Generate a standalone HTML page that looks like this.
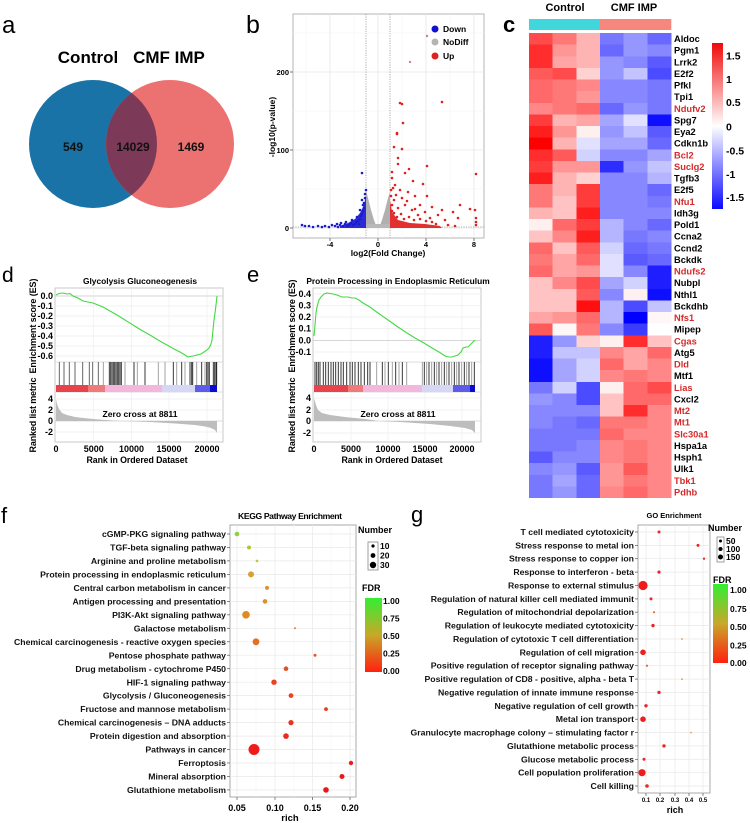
<!DOCTYPE html>
<html><head><meta charset="utf-8"><style>
html,body{margin:0;padding:0;background:#fff;}
svg{display:block;}
text{font-family:"Liberation Sans",Arial,sans-serif;}
.b{font-weight:bold;}
</style></head><body>
<svg width="750" height="823" viewBox="0 0 750 823" xmlns="http://www.w3.org/2000/svg">
<defs>
 <clipPath id="vc"><circle cx="93" cy="144" r="64"/></clipPath>
 <linearGradient id="hmg" x1="0" y1="0" x2="0" y2="1"><stop offset="0" stop-color="#f00a0a"/><stop offset="0.5" stop-color="#ffffff"/><stop offset="1" stop-color="#0a0aff"/></linearGradient>
 <linearGradient id="fdr" x1="0" y1="0" x2="0" y2="1"><stop offset="0" stop-color="#33ee33"/><stop offset="0.5" stop-color="#c8a828"/><stop offset="1" stop-color="#ff2010"/></linearGradient>
</defs>
<rect width="750" height="823" fill="#fff"/>

<!-- ===== Panel a: Venn ===== -->
<text x="2" y="33" font-size="24">a</text>
<text x="88" y="63" font-size="17" class="b" text-anchor="middle">Control</text>
<text x="169" y="63" font-size="17" class="b" text-anchor="middle">CMF IMP</text>
<circle cx="93" cy="144" r="64" fill="#1a73a7"/>
<circle cx="170" cy="144" r="64" fill="#ec7272"/>
<circle cx="170" cy="144" r="64" fill="#7d3a58" clip-path="url(#vc)"/>
<text x="73" y="151" font-size="12" class="b" text-anchor="middle" fill="#111">549</text>
<text x="133" y="151" font-size="12" class="b" text-anchor="middle" fill="#111">14029</text>
<text x="191" y="151" font-size="12" class="b" text-anchor="middle" fill="#111">1469</text>

<!-- ===== Panel b: Volcano ===== -->
<text x="246" y="33" font-size="25">b</text>
<rect x="293" y="14" width="191" height="224" fill="#fff" stroke="#b5b5b5" stroke-width="1"/>
<g stroke="#f3f3f3" stroke-width="0.6">
<line x1="306" y1="14" x2="306" y2="238"/><line x1="354" y1="14" x2="354" y2="238"/><line x1="402" y1="14" x2="402" y2="238"/><line x1="450" y1="14" x2="450" y2="238"/>
<line x1="293" y1="189" x2="484" y2="189"/><line x1="293" y1="111" x2="484" y2="111"/><line x1="293" y1="33" x2="484" y2="33"/>
</g>
<g stroke="#e6e6e6" stroke-width="0.8">
<line x1="330" y1="14" x2="330" y2="238"/><line x1="378" y1="14" x2="378" y2="238"/><line x1="426" y1="14" x2="426" y2="238"/><line x1="474" y1="14" x2="474" y2="238"/>
<line x1="293" y1="228" x2="484" y2="228"/><line x1="293" y1="150" x2="484" y2="150"/><line x1="293" y1="72" x2="484" y2="72"/>
</g>
<g stroke="#999" stroke-width="0.8" stroke-dasharray="1.2,1.2">
<line x1="366" y1="14" x2="366" y2="238"/><line x1="390" y1="14" x2="390" y2="238"/>
<line x1="293" y1="227" x2="484" y2="227"/>
</g>
<g stroke="#555" stroke-width="0.8">
<line x1="290" y1="228" x2="293" y2="228"/><line x1="290" y1="150" x2="293" y2="150"/><line x1="290" y1="72" x2="293" y2="72"/>
<line x1="330" y1="238" x2="330" y2="241"/><line x1="378" y1="238" x2="378" y2="241"/><line x1="426" y1="238" x2="426" y2="241"/><line x1="474" y1="238" x2="474" y2="241"/>
</g>
<g font-size="7.5" class="b" text-anchor="end">
<text x="289" y="231">0</text><text x="289" y="153">100</text><text x="289" y="75">200</text>
</g>
<g font-size="7.5" class="b" text-anchor="middle">
<text x="330" y="247">-4</text><text x="378" y="247">0</text><text x="426" y="247">4</text><text x="474" y="247">8</text>
</g>
<text x="388" y="256" font-size="8.5" class="b" text-anchor="middle">log2(Fold Change)</text>
<text transform="translate(275,127) rotate(-90)" font-size="8.5" class="b" text-anchor="middle">-log10(p-value)</text>
<!-- gray -->
<polygon points="366,228 366,190 368,198 371,210 374,220 377,228" fill="#b0b0b0"/>
<polygon points="379,228 382,220 385,210 388,198 390,192 390,228" fill="#b0b0b0"/>
<rect x="366" y="224" width="24" height="4" fill="#b8b8b8"/>
<!-- blue -->
<polygon points="340,228 366,228 366,195 364,205 360,213 355,219 348,223 340,226" fill="#2b2bd6"/>
<g fill="#1a1ad0">
<circle cx="302" cy="225" r="1.3"/><circle cx="305" cy="226" r="1.3"/><circle cx="309" cy="226" r="1.3"/><circle cx="313" cy="227" r="1.3"/><circle cx="318" cy="226" r="1.3"/><circle cx="322" cy="227" r="1.3"/><circle cx="325" cy="226" r="1.3"/><circle cx="329" cy="227" r="1.3"/><circle cx="332" cy="225" r="1.3"/><circle cx="335" cy="226" r="1.3"/><circle cx="338" cy="227" r="1.3"/><circle cx="340" cy="225" r="1.3"/><circle cx="343" cy="226" r="1.3"/><circle cx="345" cy="224" r="1.3"/><circle cx="347" cy="226" r="1.3"/><circle cx="349" cy="225" r="1.3"/><circle cx="351" cy="223" r="1.3"/><circle cx="353" cy="225" r="1.3"/><circle cx="355" cy="224" r="1.3"/><circle cx="356" cy="222" r="1.3"/><circle cx="358" cy="221" r="1.3"/><circle cx="359" cy="224" r="1.3"/><circle cx="360" cy="219" r="1.3"/><circle cx="361" cy="216" r="1.3"/><circle cx="362" cy="214" r="1.3"/><circle cx="363" cy="211" r="1.3"/><circle cx="364" cy="208" r="1.3"/><circle cx="364" cy="203" r="1.3"/><circle cx="365" cy="198" r="1.3"/><circle cx="365" cy="194" r="1.3"/><circle cx="366" cy="190" r="1.3"/><circle cx="363" cy="205" r="1.3"/><circle cx="362" cy="200" r="1.3"/><circle cx="360" cy="210" r="1.3"/><circle cx="357" cy="217" r="1.3"/><circle cx="362" cy="173" r="1.3"/><circle cx="352" cy="220" r="1.3"/><circle cx="346" cy="222" r="1.3"/><circle cx="341" cy="223" r="1.3"/><circle cx="337" cy="224" r="1.3"/>
</g>
<!-- red -->
<polygon points="390,228 442,228 440,226 425,224 410,223 398,220 392,212 390,200" fill="#e23030"/>
<g fill="#e02020">
<circle cx="397" cy="134" r="1.3"/><circle cx="394" cy="147" r="1.3"/><circle cx="402" cy="149" r="1.3"/><circle cx="398" cy="158" r="1.3"/><circle cx="398" cy="164" r="1.3"/><circle cx="427" cy="166" r="1.3"/><circle cx="409" cy="169" r="1.3"/><circle cx="405" cy="173" r="1.3"/><circle cx="413" cy="181" r="1.3"/><circle cx="423" cy="184" r="1.3"/><circle cx="476" cy="174" r="1.3"/><circle cx="427" cy="196" r="1.3"/><circle cx="395" cy="185" r="1.3"/><circle cx="400" cy="190" r="1.3"/><circle cx="392" cy="178" r="1.3"/><circle cx="392" cy="172" r="1.3"/><circle cx="396" cy="195" r="1.3"/><circle cx="402" cy="198" r="1.3"/><circle cx="408" cy="192" r="1.3"/><circle cx="415" cy="196" r="1.3"/><circle cx="420" cy="205" r="1.3"/><circle cx="432" cy="207" r="1.3"/><circle cx="442" cy="210" r="1.3"/><circle cx="460" cy="205" r="1.3"/><circle cx="470" cy="209" r="1.3"/><circle cx="453" cy="212" r="1.3"/><circle cx="458" cy="218" r="1.3"/><circle cx="475" cy="210" r="1.3"/><circle cx="476" cy="218" r="1.3"/><circle cx="476" cy="222" r="1.3"/><circle cx="476" cy="225" r="1.3"/><circle cx="445" cy="220" r="1.3"/><circle cx="438" cy="215" r="1.3"/><circle cx="425" cy="212" r="1.3"/><circle cx="418" cy="215" r="1.3"/><circle cx="412" cy="210" r="1.3"/><circle cx="405" cy="205" r="1.3"/><circle cx="398" cy="208" r="1.3"/><circle cx="394" cy="200" r="1.3"/><circle cx="392" cy="205" r="1.3"/><circle cx="400" cy="103" r="1.3"/><circle cx="402" cy="104" r="1.3"/><circle cx="442" cy="102" r="1.3"/><circle cx="403" cy="123" r="1.3"/><circle cx="397" cy="133" r="1.3"/><circle cx="391" cy="190" r="1.3"/><circle cx="393" cy="188" r="1.3"/><circle cx="391" cy="196" r="1.3"/><circle cx="392" cy="211" r="1.3"/><circle cx="394" cy="213" r="1.3"/><circle cx="397" cy="217" r="1.3"/><circle cx="401" cy="214" r="1.3"/><circle cx="404" cy="219" r="1.3"/><circle cx="409" cy="217" r="1.3"/><circle cx="414" cy="220" r="1.3"/><circle cx="420" cy="219" r="1.3"/><circle cx="426" cy="221" r="1.3"/><circle cx="432" cy="222" r="1.3"/><circle cx="436" cy="224" r="1.3"/><circle cx="448" cy="225" r="1.3"/><circle cx="455" cy="226" r="1.3"/><circle cx="430" cy="218" r="1.3"/><circle cx="415" cy="209" r="1.3"/><circle cx="407" cy="201" r="1.3"/>
</g>
<circle cx="410" cy="62" r="1.2" fill="#d08080"/><circle cx="427" cy="36" r="1.2" fill="#d08080"/>
<!-- legend -->
<circle cx="435" cy="29" r="3.5" fill="#1010d0"/><circle cx="435" cy="42" r="3.5" fill="#b4b4b4"/><circle cx="435" cy="56" r="3.5" fill="#e02020"/>
<g font-size="8.5" class="b"><text x="443" y="32">Down</text><text x="443" y="45">NoDiff</text><text x="443" y="59">Up</text></g>

<!-- ===== Panel c: heatmap ===== -->
<text x="503" y="32" font-size="22" class="b">c</text>
<text x="565" y="11" font-size="11" class="b" text-anchor="middle">Control</text>
<text x="634" y="11" font-size="11" class="b" text-anchor="middle">CMF IMP</text>
<rect x="529" y="19" width="71" height="11" fill="#3fd6dc"/>
<rect x="600" y="19" width="71.3" height="11" fill="#f5877d"/>
<g shape-rendering="crispEdges">
<g transform="translate(529,33)"><rect x="0" width="24" height="12" fill="#ff4b4b"/><rect x="23.67" width="24" height="12" fill="#ff7878"/><rect x="47.33" width="24" height="12" fill="#ffb4b4"/><rect x="71" width="24" height="12" fill="#7878ff"/><rect x="94.67" width="24" height="12" fill="#9696ff"/><rect x="118.33" width="24" height="12" fill="#6969ff"/></g>
<g transform="translate(529,44.625)"><rect x="0" width="24" height="12" fill="#ff2d2d"/><rect x="23.67" width="24" height="12" fill="#ff9696"/><rect x="47.33" width="24" height="12" fill="#ffb4b4"/><rect x="71" width="24" height="12" fill="#6969ff"/><rect x="94.67" width="24" height="12" fill="#9696ff"/><rect x="118.33" width="24" height="12" fill="#8787ff"/></g>
<g transform="translate(529,56.25)"><rect x="0" width="24" height="12" fill="#ff2d2d"/><rect x="23.67" width="24" height="12" fill="#ffa5a5"/><rect x="47.33" width="24" height="12" fill="#ffb4b4"/><rect x="71" width="24" height="12" fill="#9696ff"/><rect x="94.67" width="24" height="12" fill="#8787ff"/><rect x="118.33" width="24" height="12" fill="#5a5aff"/></g>
<g transform="translate(529,67.875)"><rect x="0" width="24" height="12" fill="#ff5a5a"/><rect x="23.67" width="24" height="12" fill="#ff4b4b"/><rect x="47.33" width="24" height="12" fill="#ffd2d2"/><rect x="71" width="24" height="12" fill="#9696ff"/><rect x="94.67" width="24" height="12" fill="#c3c3ff"/><rect x="118.33" width="24" height="12" fill="#4b4bff"/></g>
<g transform="translate(529,79.5)"><rect x="0" width="24" height="12" fill="#ff6969"/><rect x="23.67" width="24" height="12" fill="#ff7878"/><rect x="47.33" width="24" height="12" fill="#ff8787"/><rect x="71" width="24" height="12" fill="#8787ff"/><rect x="94.67" width="24" height="12" fill="#8787ff"/><rect x="118.33" width="24" height="12" fill="#7878ff"/></g>
<g transform="translate(529,91.125)"><rect x="0" width="24" height="12" fill="#ff6969"/><rect x="23.67" width="24" height="12" fill="#ff7878"/><rect x="47.33" width="24" height="12" fill="#ff9696"/><rect x="71" width="24" height="12" fill="#8787ff"/><rect x="94.67" width="24" height="12" fill="#8787ff"/><rect x="118.33" width="24" height="12" fill="#7878ff"/></g>
<g transform="translate(529,102.75)"><rect x="0" width="24" height="12" fill="#ff8787"/><rect x="23.67" width="24" height="12" fill="#ff7878"/><rect x="47.33" width="24" height="12" fill="#ff6969"/><rect x="71" width="24" height="12" fill="#6969ff"/><rect x="94.67" width="24" height="12" fill="#9696ff"/><rect x="118.33" width="24" height="12" fill="#7878ff"/></g>
<g transform="translate(529,114.375)"><rect x="0" width="24" height="12" fill="#ff3c3c"/><rect x="23.67" width="24" height="12" fill="#ffb4b4"/><rect x="47.33" width="24" height="12" fill="#ffa5a5"/><rect x="71" width="24" height="12" fill="#a5a5ff"/><rect x="94.67" width="24" height="12" fill="#e1e1ff"/><rect x="118.33" width="24" height="12" fill="#0f0fff"/></g>
<g transform="translate(529,126)"><rect x="0" width="24" height="12" fill="#ff1e1e"/><rect x="23.67" width="24" height="12" fill="#ff9696"/><rect x="47.33" width="24" height="12" fill="#fff0f0"/><rect x="71" width="24" height="12" fill="#9696ff"/><rect x="94.67" width="24" height="12" fill="#c3c3ff"/><rect x="118.33" width="24" height="12" fill="#5a5aff"/></g>
<g transform="translate(529,137.625)"><rect x="0" width="24" height="12" fill="#ff0000"/><rect x="23.67" width="24" height="12" fill="#ffb4b4"/><rect x="47.33" width="24" height="12" fill="#e1e1ff"/><rect x="71" width="24" height="12" fill="#a5a5ff"/><rect x="94.67" width="24" height="12" fill="#a5a5ff"/><rect x="118.33" width="24" height="12" fill="#6969ff"/></g>
<g transform="translate(529,149.25)"><rect x="0" width="24" height="12" fill="#ff2d2d"/><rect x="23.67" width="24" height="12" fill="#ff5a5a"/><rect x="47.33" width="24" height="12" fill="#d2d2ff"/><rect x="71" width="24" height="12" fill="#8787ff"/><rect x="94.67" width="24" height="12" fill="#8787ff"/><rect x="118.33" width="24" height="12" fill="#a5a5ff"/></g>
<g transform="translate(529,160.875)"><rect x="0" width="24" height="12" fill="#ff3c3c"/><rect x="23.67" width="24" height="12" fill="#ff9696"/><rect x="47.33" width="24" height="12" fill="#ff9696"/><rect x="71" width="24" height="12" fill="#2d2dff"/><rect x="94.67" width="24" height="12" fill="#9696ff"/><rect x="118.33" width="24" height="12" fill="#c3c3ff"/></g>
<g transform="translate(529,172.5)"><rect x="0" width="24" height="12" fill="#ff1e1e"/><rect x="23.67" width="24" height="12" fill="#ffb4b4"/><rect x="47.33" width="24" height="12" fill="#ffd2d2"/><rect x="71" width="24" height="12" fill="#8787ff"/><rect x="94.67" width="24" height="12" fill="#8787ff"/><rect x="118.33" width="24" height="12" fill="#b4b4ff"/></g>
<g transform="translate(529,184.125)"><rect x="0" width="24" height="12" fill="#ff7878"/><rect x="23.67" width="24" height="12" fill="#ffb4b4"/><rect x="47.33" width="24" height="12" fill="#ff3c3c"/><rect x="71" width="24" height="12" fill="#8787ff"/><rect x="94.67" width="24" height="12" fill="#8787ff"/><rect x="118.33" width="24" height="12" fill="#6969ff"/></g>
<g transform="translate(529,195.75)"><rect x="0" width="24" height="12" fill="#ff7878"/><rect x="23.67" width="24" height="12" fill="#ffc3c3"/><rect x="47.33" width="24" height="12" fill="#ff3c3c"/><rect x="71" width="24" height="12" fill="#8787ff"/><rect x="94.67" width="24" height="12" fill="#8787ff"/><rect x="118.33" width="24" height="12" fill="#7878ff"/></g>
<g transform="translate(529,207.375)"><rect x="0" width="24" height="12" fill="#ffb4b4"/><rect x="23.67" width="24" height="12" fill="#ffc3c3"/><rect x="47.33" width="24" height="12" fill="#ff1e1e"/><rect x="71" width="24" height="12" fill="#8787ff"/><rect x="94.67" width="24" height="12" fill="#8787ff"/><rect x="118.33" width="24" height="12" fill="#8787ff"/></g>
<g transform="translate(529,219)"><rect x="0" width="24" height="12" fill="#fff0f0"/><rect x="23.67" width="24" height="12" fill="#ff6969"/><rect x="47.33" width="24" height="12" fill="#ff3c3c"/><rect x="71" width="24" height="12" fill="#b4b4ff"/><rect x="94.67" width="24" height="12" fill="#8787ff"/><rect x="118.33" width="24" height="12" fill="#6969ff"/></g>
<g transform="translate(529,230.625)"><rect x="0" width="24" height="12" fill="#ffc3c3"/><rect x="23.67" width="24" height="12" fill="#ff8787"/><rect x="47.33" width="24" height="12" fill="#ff1e1e"/><rect x="71" width="24" height="12" fill="#b4b4ff"/><rect x="94.67" width="24" height="12" fill="#7878ff"/><rect x="118.33" width="24" height="12" fill="#8787ff"/></g>
<g transform="translate(529,242.25)"><rect x="0" width="24" height="12" fill="#ff6969"/><rect x="23.67" width="24" height="12" fill="#ffc3c3"/><rect x="47.33" width="24" height="12" fill="#ff5a5a"/><rect x="71" width="24" height="12" fill="#d2d2ff"/><rect x="94.67" width="24" height="12" fill="#6969ff"/><rect x="118.33" width="24" height="12" fill="#7878ff"/></g>
<g transform="translate(529,253.875)"><rect x="0" width="24" height="12" fill="#ff7878"/><rect x="23.67" width="24" height="12" fill="#ffa5a5"/><rect x="47.33" width="24" height="12" fill="#ff6969"/><rect x="71" width="24" height="12" fill="#e1e1ff"/><rect x="94.67" width="24" height="12" fill="#5a5aff"/><rect x="118.33" width="24" height="12" fill="#6969ff"/></g>
<g transform="translate(529,265.5)"><rect x="0" width="24" height="12" fill="#ff6969"/><rect x="23.67" width="24" height="12" fill="#ffa5a5"/><rect x="47.33" width="24" height="12" fill="#ff9696"/><rect x="71" width="24" height="12" fill="#e1e1ff"/><rect x="94.67" width="24" height="12" fill="#8787ff"/><rect x="118.33" width="24" height="12" fill="#1e1eff"/></g>
<g transform="translate(529,277.125)"><rect x="0" width="24" height="12" fill="#ffc3c3"/><rect x="23.67" width="24" height="12" fill="#ff8787"/><rect x="47.33" width="24" height="12" fill="#ff4b4b"/><rect x="71" width="24" height="12" fill="#a5a5ff"/><rect x="94.67" width="24" height="12" fill="#d2d2ff"/><rect x="118.33" width="24" height="12" fill="#1e1eff"/></g>
<g transform="translate(529,288.75)"><rect x="0" width="24" height="12" fill="#ffc3c3"/><rect x="23.67" width="24" height="12" fill="#ffc3c3"/><rect x="47.33" width="24" height="12" fill="#ff5a5a"/><rect x="71" width="24" height="12" fill="#8787ff"/><rect x="94.67" width="24" height="12" fill="#fff0f0"/><rect x="118.33" width="24" height="12" fill="#0f0fff"/></g>
<g transform="translate(529,300.375)"><rect x="0" width="24" height="12" fill="#ffc3c3"/><rect x="23.67" width="24" height="12" fill="#ffc3c3"/><rect x="47.33" width="24" height="12" fill="#ff0f0f"/><rect x="71" width="24" height="12" fill="#b4b4ff"/><rect x="94.67" width="24" height="12" fill="#4b4bff"/><rect x="118.33" width="24" height="12" fill="#c3c3ff"/></g>
<g transform="translate(529,312)"><rect x="0" width="24" height="12" fill="#ffa5a5"/><rect x="23.67" width="24" height="12" fill="#ff9696"/><rect x="47.33" width="24" height="12" fill="#ff6969"/><rect x="71" width="24" height="12" fill="#b4b4ff"/><rect x="94.67" width="24" height="12" fill="#0000ff"/><rect x="118.33" width="24" height="12" fill="#fff7f7"/></g>
<g transform="translate(529,323.625)"><rect x="0" width="24" height="12" fill="#ff5a5a"/><rect x="23.67" width="24" height="12" fill="#fff7f7"/><rect x="47.33" width="24" height="12" fill="#ff7878"/><rect x="71" width="24" height="12" fill="#8787ff"/><rect x="94.67" width="24" height="12" fill="#3c3cff"/><rect x="118.33" width="24" height="12" fill="#ffffff"/></g>
<g transform="translate(529,335.25)"><rect x="0" width="24" height="12" fill="#1e1eff"/><rect x="23.67" width="24" height="12" fill="#9696ff"/><rect x="47.33" width="24" height="12" fill="#ffd2d2"/><rect x="71" width="24" height="12" fill="#fff0f0"/><rect x="94.67" width="24" height="12" fill="#ff2d2d"/><rect x="118.33" width="24" height="12" fill="#ffc3c3"/></g>
<g transform="translate(529,346.875)"><rect x="0" width="24" height="12" fill="#1e1eff"/><rect x="23.67" width="24" height="12" fill="#c3c3ff"/><rect x="47.33" width="24" height="12" fill="#c3c3ff"/><rect x="71" width="24" height="12" fill="#ff8787"/><rect x="94.67" width="24" height="12" fill="#ffa5a5"/><rect x="118.33" width="24" height="12" fill="#ff6969"/></g>
<g transform="translate(529,358.5)"><rect x="0" width="24" height="12" fill="#0f0fff"/><rect x="23.67" width="24" height="12" fill="#a5a5ff"/><rect x="47.33" width="24" height="12" fill="#d2d2ff"/><rect x="71" width="24" height="12" fill="#ff6969"/><rect x="94.67" width="24" height="12" fill="#ffa5a5"/><rect x="118.33" width="24" height="12" fill="#ff8787"/></g>
<g transform="translate(529,370.125)"><rect x="0" width="24" height="12" fill="#0f0fff"/><rect x="23.67" width="24" height="12" fill="#a5a5ff"/><rect x="47.33" width="24" height="12" fill="#d2d2ff"/><rect x="71" width="24" height="12" fill="#ff8787"/><rect x="94.67" width="24" height="12" fill="#ff7878"/><rect x="118.33" width="24" height="12" fill="#ff8787"/></g>
<g transform="translate(529,381.75)"><rect x="0" width="24" height="12" fill="#7878ff"/><rect x="23.67" width="24" height="12" fill="#d2d2ff"/><rect x="47.33" width="24" height="12" fill="#4b4bff"/><rect x="71" width="24" height="12" fill="#fff0f0"/><rect x="94.67" width="24" height="12" fill="#ff6969"/><rect x="118.33" width="24" height="12" fill="#ff4b4b"/></g>
<g transform="translate(529,393.375)"><rect x="0" width="24" height="12" fill="#9696ff"/><rect x="23.67" width="24" height="12" fill="#8787ff"/><rect x="47.33" width="24" height="12" fill="#4b4bff"/><rect x="71" width="24" height="12" fill="#ffc3c3"/><rect x="94.67" width="24" height="12" fill="#ff6969"/><rect x="118.33" width="24" height="12" fill="#ff6969"/></g>
<g transform="translate(529,405)"><rect x="0" width="24" height="12" fill="#8787ff"/><rect x="23.67" width="24" height="12" fill="#8787ff"/><rect x="47.33" width="24" height="12" fill="#8787ff"/><rect x="71" width="24" height="12" fill="#ffc3c3"/><rect x="94.67" width="24" height="12" fill="#ff2d2d"/><rect x="118.33" width="24" height="12" fill="#ff8787"/></g>
<g transform="translate(529,416.625)"><rect x="0" width="24" height="12" fill="#8787ff"/><rect x="23.67" width="24" height="12" fill="#7878ff"/><rect x="47.33" width="24" height="12" fill="#6969ff"/><rect x="71" width="24" height="12" fill="#ff7878"/><rect x="94.67" width="24" height="12" fill="#ff7878"/><rect x="118.33" width="24" height="12" fill="#ff8787"/></g>
<g transform="translate(529,428.25)"><rect x="0" width="24" height="12" fill="#7878ff"/><rect x="23.67" width="24" height="12" fill="#7878ff"/><rect x="47.33" width="24" height="12" fill="#7878ff"/><rect x="71" width="24" height="12" fill="#ff6969"/><rect x="94.67" width="24" height="12" fill="#ff8787"/><rect x="118.33" width="24" height="12" fill="#ff8787"/></g>
<g transform="translate(529,439.875)"><rect x="0" width="24" height="12" fill="#7878ff"/><rect x="23.67" width="24" height="12" fill="#7878ff"/><rect x="47.33" width="24" height="12" fill="#8787ff"/><rect x="71" width="24" height="12" fill="#ff8787"/><rect x="94.67" width="24" height="12" fill="#ff7878"/><rect x="118.33" width="24" height="12" fill="#ff8787"/></g>
<g transform="translate(529,451.5)"><rect x="0" width="24" height="12" fill="#5a5aff"/><rect x="23.67" width="24" height="12" fill="#8787ff"/><rect x="47.33" width="24" height="12" fill="#8787ff"/><rect x="71" width="24" height="12" fill="#ff8787"/><rect x="94.67" width="24" height="12" fill="#ff7878"/><rect x="118.33" width="24" height="12" fill="#ff8787"/></g>
<g transform="translate(529,463.125)"><rect x="0" width="24" height="12" fill="#8787ff"/><rect x="23.67" width="24" height="12" fill="#9696ff"/><rect x="47.33" width="24" height="12" fill="#5a5aff"/><rect x="71" width="24" height="12" fill="#ff9696"/><rect x="94.67" width="24" height="12" fill="#ff5a5a"/><rect x="118.33" width="24" height="12" fill="#ff8787"/></g>
<g transform="translate(529,474.75)"><rect x="0" width="24" height="12" fill="#7878ff"/><rect x="23.67" width="24" height="12" fill="#a5a5ff"/><rect x="47.33" width="24" height="12" fill="#6969ff"/><rect x="71" width="24" height="12" fill="#ff9696"/><rect x="94.67" width="24" height="12" fill="#ff7878"/><rect x="118.33" width="24" height="12" fill="#ff8787"/></g>
<g transform="translate(529,486.375)"><rect x="0" width="24" height="11.7" fill="#7878ff"/><rect x="23.67" width="24" height="11.7" fill="#9696ff"/><rect x="47.33" width="24" height="11.7" fill="#6969ff"/><rect x="71" width="24" height="11.7" fill="#ff8787"/><rect x="94.67" width="24" height="11.7" fill="#ff6969"/><rect x="118.33" width="24" height="11.7" fill="#ff8787"/></g>
</g>
<g font-size="9.3" class="b">
<text x="674" y="42.0">Aldoc</text><text x="674" y="53.6">Pgm1</text><text x="674" y="65.3">Lrrk2</text><text x="674" y="76.9">E2f2</text><text x="674" y="88.5">Pfkl</text><text x="674" y="100.1">Tpi1</text><text x="674" y="111.8" fill="#d42a2a">Ndufv2</text><text x="674" y="123.4">Spg7</text><text x="674" y="135.0">Eya2</text><text x="674" y="146.6">Cdkn1b</text><text x="674" y="158.3" fill="#d42a2a">Bcl2</text><text x="674" y="169.9" fill="#d42a2a">Suclg2</text><text x="674" y="181.5">Tgfb3</text><text x="674" y="193.1">E2f5</text><text x="674" y="204.8" fill="#d42a2a">Nfu1</text><text x="674" y="216.4">Idh3g</text><text x="674" y="228.0">Pold1</text><text x="674" y="239.6">Ccna2</text><text x="674" y="251.3">Ccnd2</text><text x="674" y="262.9">Bckdk</text><text x="674" y="274.5" fill="#d42a2a">Ndufs2</text><text x="674" y="286.1">Nubpl</text><text x="674" y="297.8">Nthl1</text><text x="674" y="309.4">Bckdhb</text><text x="674" y="321.0" fill="#d42a2a">Nfs1</text><text x="674" y="332.6">Mipep</text><text x="674" y="344.3" fill="#d42a2a">Cgas</text><text x="674" y="355.9">Atg5</text><text x="674" y="367.5" fill="#d42a2a">Dld</text><text x="674" y="379.1">Mtf1</text><text x="674" y="390.8" fill="#d42a2a">Lias</text><text x="674" y="402.4">Cxcl2</text><text x="674" y="414.0" fill="#d42a2a">Mt2</text><text x="674" y="425.6" fill="#d42a2a">Mt1</text><text x="674" y="437.3" fill="#d42a2a">Slc30a1</text><text x="674" y="448.9">Hspa1a</text><text x="674" y="460.5">Hsph1</text><text x="674" y="472.1">Ulk1</text><text x="674" y="483.8" fill="#d42a2a">Tbk1</text><text x="674" y="495.4" fill="#d42a2a">Pdhb</text>
</g>
<rect x="712" y="43" width="11" height="166" fill="url(#hmg)"/>
<g font-size="10.5" class="b">
<text x="726" y="59.5">1.5</text><text x="726" y="83">1</text><text x="726" y="106">0.5</text><text x="726" y="130.5">0</text><text x="726" y="154.5">-0.5</text><text x="726" y="178">-1</text><text x="726" y="201">-1.5</text>
</g>

<!-- ===== Panel d: GSEA ===== -->
<text x="2" y="282" font-size="21">d</text>
<text x="140" y="284" font-size="8.4" class="b" text-anchor="middle">Glycolysis Gluconeogenesis</text>
<rect x="55" y="288" width="168" height="154" fill="#fff" stroke="#c8c8c8"/>
<g stroke="#eeeeee" stroke-width="0.7">
<line x1="55" y1="306" x2="223" y2="306"/><line x1="55" y1="316" x2="223" y2="316"/><line x1="55" y1="326" x2="223" y2="326"/><line x1="55" y1="336" x2="223" y2="336"/><line x1="55" y1="346" x2="223" y2="346"/><line x1="55" y1="356" x2="223" y2="356"/>
<line x1="55" y1="399" x2="223" y2="399"/><line x1="55" y1="410" x2="223" y2="410"/><line x1="55" y1="432" x2="223" y2="432"/>
<line x1="93.75" y1="288" x2="93.75" y2="362"/><line x1="131.5" y1="288" x2="131.5" y2="362"/><line x1="169" y1="288" x2="169" y2="362"/><line x1="207" y1="288" x2="207" y2="362"/>
<line x1="93.75" y1="392" x2="93.75" y2="442"/><line x1="131.5" y1="392" x2="131.5" y2="442"/><line x1="169" y1="392" x2="169" y2="442"/><line x1="207" y1="392" x2="207" y2="442"/>
</g>
<line x1="55" y1="296" x2="223" y2="296" stroke="#c8c8c8" stroke-width="0.8"/>
<line x1="55" y1="421" x2="223" y2="421" stroke="#d0d0d0" stroke-width="0.8"/>
<line x1="55" y1="362" x2="223" y2="362" stroke="#d0d0d0" stroke-width="0.8"/>
<line x1="55" y1="392" x2="223" y2="392" stroke="#d0d0d0" stroke-width="0.8"/>
<path d="M56,421 L56,399 L57,404 L59,409 L62,413 L67,415 L75,417 L88,418.5 L105,420 L122,421 L150,422 L175,423.5 L195,425 L205,426.5 L211,428 L215,430 L217,433 L217,421 Z" fill="#bdbdbd"/>
<g stroke-width="0.9">
<g stroke="#555"><line x1="59.3" y1="362" x2="59.3" y2="385"/><line x1="64" y1="362" x2="64" y2="385"/><line x1="69.3" y1="362" x2="69.3" y2="385"/><line x1="75" y1="362" x2="75" y2="385"/><line x1="82.7" y1="362" x2="82.7" y2="385"/><line x1="89.3" y1="362" x2="89.3" y2="385"/><line x1="92.7" y1="362" x2="92.7" y2="385"/><line x1="98.3" y1="362" x2="98.3" y2="385"/></g>
<g stroke="#999"><line x1="103.3" y1="362" x2="103.3" y2="385"/><line x1="125" y1="362" x2="125" y2="385"/><line x1="137.3" y1="362" x2="137.3" y2="385"/><line x1="158.3" y1="362" x2="158.3" y2="385"/><line x1="165" y1="362" x2="165" y2="385"/><line x1="176.7" y1="362" x2="176.7" y2="385"/><line x1="185" y1="362" x2="185" y2="385"/><line x1="196.7" y1="362" x2="196.7" y2="385"/><line x1="205" y1="362" x2="205" y2="385"/></g>
<g stroke="#222"><line x1="109.3" y1="362" x2="109.3" y2="385"/><line x1="110.7" y1="362" x2="110.7" y2="385"/><line x1="112" y1="362" x2="112" y2="385"/><line x1="113.3" y1="362" x2="113.3" y2="385"/><line x1="114.7" y1="362" x2="114.7" y2="385"/><line x1="116" y1="362" x2="116" y2="385"/><line x1="117.3" y1="362" x2="117.3" y2="385"/><line x1="118.7" y1="362" x2="118.7" y2="385"/><line x1="120" y1="362" x2="120" y2="385"/><line x1="121.3" y1="362" x2="121.3" y2="385"/><line x1="134" y1="362" x2="134" y2="385"/><line x1="145" y1="362" x2="145" y2="385"/><line x1="173.3" y1="362" x2="173.3" y2="385"/><line x1="181.7" y1="362" x2="181.7" y2="385"/><line x1="190" y1="362" x2="190" y2="385"/><line x1="191.7" y1="362" x2="191.7" y2="385"/><line x1="192.7" y1="362" x2="192.7" y2="385"/><line x1="201.7" y1="362" x2="201.7" y2="385"/><line x1="206.7" y1="362" x2="206.7" y2="385"/><line x1="208" y1="362" x2="208" y2="385"/><line x1="209.3" y1="362" x2="209.3" y2="385"/><line x1="213.3" y1="362" x2="213.3" y2="385"/><line x1="214.7" y1="362" x2="214.7" y2="385"/><line x1="216" y1="362" x2="216" y2="385"/><line x1="216.7" y1="362" x2="216.7" y2="385"/></g>
</g>
<rect x="56" y="385" width="32" height="7" fill="#e8424c"/><rect x="88" y="385" width="17" height="7" fill="#f07a7a"/><rect x="105" y="385" width="57" height="7" fill="#f4b6dc"/><rect x="162" y="385" width="33" height="7" fill="#d6d6f6"/><rect x="195" y="385" width="15" height="7" fill="#5c5ce8"/><rect x="210" y="385" width="7" height="7" fill="#0a0ad0"/>
<path d="M56,295 L59,293.5 L63,293 L67,294 L70,293.6 L73,296 L78,298 L83,301 L88,302 L93,303 L98,305 L103,307 L110,311 L117,315 L125,320 L133,325 L141,330 L150,335 L158,340 L167,345 L174,349 L180,352 L185,355 L188,357 L190,356.5 L193,356 L197,355 L201,354 L204,352 L207,350 L209,348 L211,344 L212,340 L213,330 L214,320 L215,313 L216,305 L217,296" fill="none" stroke="#44d844" stroke-width="1.1"/>
<g font-size="9" class="b" text-anchor="end">
<text x="53" y="299">0.0</text><text x="53" y="309">-0.1</text><text x="53" y="319">-0.2</text><text x="53" y="329">-0.3</text><text x="53" y="339">-0.4</text><text x="53" y="349">-0.5</text><text x="53" y="359">-0.6</text>
<text x="53" y="402">4</text><text x="53" y="413">2</text><text x="53" y="424">0</text><text x="53" y="435">-2</text>
</g>
<g font-size="9" class="b" text-anchor="middle">
<text x="56" y="452">0</text><text x="93.75" y="452">5000</text><text x="131.5" y="452">10000</text><text x="169" y="452">15000</text><text x="207" y="452">20000</text>
</g>
<text x="137" y="463" font-size="8.8" class="b" text-anchor="middle" textLength="101">Rank in Ordered Dataset</text>
<text x="140" y="417" font-size="8.6" class="b" text-anchor="middle">Zero cross at 8811</text>
<text transform="translate(36,326) rotate(-90)" font-size="9" class="b" text-anchor="middle" textLength="95">Enrichment score (ES)</text>
<text transform="translate(36,415) rotate(-90)" font-size="9" class="b" text-anchor="middle" textLength="75">Ranked list metric</text>

<!-- ===== Panel e: GSEA ===== -->
<text x="247" y="282" font-size="22">e</text>
<text x="398" y="284" font-size="8.4" class="b" text-anchor="middle">Protein Processing in Endoplasmic Reticulum</text>
<rect x="313" y="288" width="168" height="154" fill="#fff" stroke="#c8c8c8"/>
<g stroke="#eeeeee" stroke-width="0.7">
<line x1="313" y1="294" x2="481" y2="294"/><line x1="313" y1="305.5" x2="481" y2="305.5"/><line x1="313" y1="317" x2="481" y2="317"/><line x1="313" y1="328.5" x2="481" y2="328.5"/><line x1="313" y1="352" x2="481" y2="352"/>
<line x1="313" y1="398" x2="481" y2="398"/><line x1="313" y1="410" x2="481" y2="410"/><line x1="313" y1="433" x2="481" y2="433"/>
<line x1="351" y1="288" x2="351" y2="362"/><line x1="388" y1="288" x2="388" y2="362"/><line x1="425" y1="288" x2="425" y2="362"/><line x1="462" y1="288" x2="462" y2="362"/>
<line x1="351" y1="392" x2="351" y2="442"/><line x1="388" y1="392" x2="388" y2="442"/><line x1="425" y1="392" x2="425" y2="442"/><line x1="462" y1="392" x2="462" y2="442"/>
</g>
<line x1="313" y1="340.5" x2="481" y2="340.5" stroke="#c8c8c8" stroke-width="0.8"/>
<line x1="313" y1="421" x2="481" y2="421" stroke="#d0d0d0" stroke-width="0.8"/>
<line x1="313" y1="362" x2="481" y2="362" stroke="#d0d0d0" stroke-width="0.8"/>
<line x1="313" y1="392" x2="481" y2="392" stroke="#d0d0d0" stroke-width="0.8"/>
<path d="M314,421 L314,398 L316,405 L318,410 L322,413 L330,415 L345,417 L365,419 L379,421 L400,422 L430,424 L450,426 L465,428 L472,430 L475,433 L475,421 Z" fill="#bdbdbd"/>
<g stroke-width="0.9" stroke="#222">
<line x1="315" y1="362" x2="315" y2="385"/><line x1="316.7" y1="362" x2="316.7" y2="385"/><line x1="318.3" y1="362" x2="318.3" y2="385"/><line x1="320" y1="362" x2="320" y2="385"/><line x1="323.3" y1="362" x2="323.3" y2="385"/><line x1="325.7" y1="362" x2="325.7" y2="385"/><line x1="328.3" y1="362" x2="328.3" y2="385"/><line x1="331" y1="362" x2="331" y2="385"/><line x1="333.3" y1="362" x2="333.3" y2="385"/><line x1="335.7" y1="362" x2="335.7" y2="385"/><line x1="338.3" y1="362" x2="338.3" y2="385"/><line x1="341" y1="362" x2="341" y2="385"/><line x1="343.3" y1="362" x2="343.3" y2="385"/><line x1="346.7" y1="362" x2="346.7" y2="385"/><line x1="350" y1="362" x2="350" y2="385"/><line x1="352.3" y1="362" x2="352.3" y2="385"/><line x1="355" y1="362" x2="355" y2="385"/><line x1="358.3" y1="362" x2="358.3" y2="385"/><line x1="361" y1="362" x2="361" y2="385"/><line x1="364.3" y1="362" x2="364.3" y2="385"/><line x1="367.7" y1="362" x2="367.7" y2="385"/><line x1="370" y1="362" x2="370" y2="385"/>
<line x1="382.3" y1="362" x2="382.3" y2="385"/><line x1="388.3" y1="362" x2="388.3" y2="385"/><line x1="395.7" y1="362" x2="395.7" y2="385"/><line x1="402.3" y1="362" x2="402.3" y2="385"/>
<line x1="424.3" y1="362" x2="424.3" y2="385"/><line x1="429" y1="362" x2="429" y2="385"/><line x1="434.3" y1="362" x2="434.3" y2="385"/><line x1="439" y1="362" x2="439" y2="385"/><line x1="444.3" y1="362" x2="444.3" y2="385"/><line x1="449" y1="362" x2="449" y2="385"/><line x1="454.3" y1="362" x2="454.3" y2="385"/><line x1="459" y1="362" x2="459" y2="385"/><line x1="464.3" y1="362" x2="464.3" y2="385"/><line x1="469" y1="362" x2="469" y2="385"/><line x1="474.3" y1="362" x2="474.3" y2="385"/>
</g>
<g stroke-width="0.9" stroke="#999">
<line x1="376.7" y1="362" x2="376.7" y2="385"/><line x1="385" y1="362" x2="385" y2="385"/><line x1="392.3" y1="362" x2="392.3" y2="385"/><line x1="399" y1="362" x2="399" y2="385"/><line x1="406.7" y1="362" x2="406.7" y2="385"/>
<line x1="422.3" y1="362" x2="422.3" y2="385"/><line x1="426.7" y1="362" x2="426.7" y2="385"/><line x1="431.7" y1="362" x2="431.7" y2="385"/><line x1="436.7" y1="362" x2="436.7" y2="385"/><line x1="441.7" y1="362" x2="441.7" y2="385"/><line x1="446.7" y1="362" x2="446.7" y2="385"/><line x1="451.7" y1="362" x2="451.7" y2="385"/><line x1="456.7" y1="362" x2="456.7" y2="385"/><line x1="461.7" y1="362" x2="461.7" y2="385"/><line x1="466.7" y1="362" x2="466.7" y2="385"/><line x1="471.7" y1="362" x2="471.7" y2="385"/>
</g>
<rect x="314" y="385" width="34" height="7" fill="#e8424c"/><rect x="348" y="385" width="15" height="7" fill="#f07a7a"/><rect x="363" y="385" width="59" height="7" fill="#f4b6dc"/><rect x="422" y="385" width="31" height="7" fill="#d6d6f6"/><rect x="453" y="385" width="17" height="7" fill="#5c5ce8"/><rect x="470" y="385" width="5" height="7" fill="#0a0ad0"/>
<path d="M314,336 L315,325 L316,313 L317,307 L319,300 L321,297 L324,294 L327,293 L330,293.5 L333,294 L337,295 L342,297 L348,297 L352,298 L355,298 L359,300 L363,303 L370,307 L378,313 L388,320 L398,327 L407,333 L415,338 L424,343 L432,348 L439,352 L445,356 L449,357 L452,357 L455,356 L458,355 L461,352 L463,348 L466,347 L468,347 L470,345 L472,343 L474,341 L475,340" fill="none" stroke="#44d844" stroke-width="1.1"/>
<g font-size="9" class="b" text-anchor="end">
<text x="311" y="297">0.4</text><text x="311" y="308.5">0.3</text><text x="311" y="320">0.2</text><text x="311" y="331.5">0.1</text><text x="311" y="343.5">0.0</text><text x="311" y="355">-0.1</text>
<text x="311" y="401">4</text><text x="311" y="413">2</text><text x="311" y="424">0</text><text x="311" y="436">-2</text>
</g>
<g font-size="9" class="b" text-anchor="middle">
<text x="314" y="452">0</text><text x="351" y="452">5000</text><text x="388" y="452">10000</text><text x="425" y="452">15000</text><text x="462" y="452">20000</text>
</g>
<text x="392" y="463" font-size="8.8" class="b" text-anchor="middle" textLength="101">Rank in Ordered Dataset</text>
<text x="398" y="417" font-size="8.6" class="b" text-anchor="middle">Zero cross at 8811</text>
<text transform="translate(295,326) rotate(-90)" font-size="9" class="b" text-anchor="middle" textLength="93">Enrichment score (ES)</text>
<text transform="translate(295,415) rotate(-90)" font-size="9" class="b" text-anchor="middle" textLength="75">Ranked list metric</text>

<!-- ===== Panel f: KEGG ===== -->
<text x="1" y="523" font-size="22">f</text>
<text x="290" y="519" font-size="8.6" class="b" text-anchor="middle" textLength="104">KEGG Pathway Enrichment</text>
<rect x="230" y="525" width="126" height="272" fill="#fff" stroke="#a8a8a8"/>
<g stroke="#f3f3f3" stroke-width="0.6"><line x1="256" y1="525" x2="256" y2="797"/><line x1="294" y1="525" x2="294" y2="797"/><line x1="331" y1="525" x2="331" y2="797"/></g>
<g stroke="#e8e8e8" stroke-width="0.7">
<line x1="237" y1="525" x2="237" y2="797"/><line x1="275" y1="525" x2="275" y2="797"/><line x1="312.5" y1="525" x2="312.5" y2="797"/><line x1="350" y1="525" x2="350" y2="797"/>
<line x1="230" y1="534" x2="356" y2="534"/><line x1="230" y1="547.5" x2="356" y2="547.5"/><line x1="230" y1="560.9" x2="356" y2="560.9"/><line x1="230" y1="574.4" x2="356" y2="574.4"/><line x1="230" y1="587.9" x2="356" y2="587.9"/><line x1="230" y1="601.4" x2="356" y2="601.4"/><line x1="230" y1="614.8" x2="356" y2="614.8"/><line x1="230" y1="628.3" x2="356" y2="628.3"/><line x1="230" y1="641.8" x2="356" y2="641.8"/><line x1="230" y1="655.2" x2="356" y2="655.2"/><line x1="230" y1="668.7" x2="356" y2="668.7"/><line x1="230" y1="682.2" x2="356" y2="682.2"/><line x1="230" y1="695.6" x2="356" y2="695.6"/><line x1="230" y1="709.1" x2="356" y2="709.1"/><line x1="230" y1="722.6" x2="356" y2="722.6"/><line x1="230" y1="736.1" x2="356" y2="736.1"/><line x1="230" y1="749.5" x2="356" y2="749.5"/><line x1="230" y1="763" x2="356" y2="763"/><line x1="230" y1="776.5" x2="356" y2="776.5"/><line x1="230" y1="789.9" x2="356" y2="789.9"/>
</g>
<g stroke="#555" stroke-width="0.7">
<line x1="227" y1="534" x2="230" y2="534"/><line x1="227" y1="547.5" x2="230" y2="547.5"/><line x1="227" y1="560.9" x2="230" y2="560.9"/><line x1="227" y1="574.4" x2="230" y2="574.4"/><line x1="227" y1="587.9" x2="230" y2="587.9"/><line x1="227" y1="601.4" x2="230" y2="601.4"/><line x1="227" y1="614.8" x2="230" y2="614.8"/><line x1="227" y1="628.3" x2="230" y2="628.3"/><line x1="227" y1="641.8" x2="230" y2="641.8"/><line x1="227" y1="655.2" x2="230" y2="655.2"/><line x1="227" y1="668.7" x2="230" y2="668.7"/><line x1="227" y1="682.2" x2="230" y2="682.2"/><line x1="227" y1="695.6" x2="230" y2="695.6"/><line x1="227" y1="709.1" x2="230" y2="709.1"/><line x1="227" y1="722.6" x2="230" y2="722.6"/><line x1="227" y1="736.1" x2="230" y2="736.1"/><line x1="227" y1="749.5" x2="230" y2="749.5"/><line x1="227" y1="763" x2="230" y2="763"/><line x1="227" y1="776.5" x2="230" y2="776.5"/><line x1="227" y1="789.9" x2="230" y2="789.9"/>
<line x1="237" y1="797" x2="237" y2="800"/><line x1="275" y1="797" x2="275" y2="800"/><line x1="312.5" y1="797" x2="312.5" y2="800"/><line x1="350" y1="797" x2="350" y2="800"/>
</g>
<g font-size="8.7" class="b" text-anchor="end" fill="#111">
<text x="226" y="537.1">cGMP-PKG signaling pathway</text>
<text x="226" y="550.6">TGF-beta signaling pathway</text>
<text x="226" y="564">Arginine and proline metabolism</text>
<text x="226" y="577.5">Protein processing in endoplasmic reticulum</text>
<text x="226" y="591">Central carbon metabolism in cancer</text>
<text x="226" y="604.5">Antigen processing and presentation</text>
<text x="226" y="617.9">PI3K-Akt signaling pathway</text>
<text x="226" y="631.4">Galactose metabolism</text>
<text x="226" y="644.9">Chemical carcinogenesis - reactive oxygen species</text>
<text x="226" y="658.3">Pentose phosphate pathway</text>
<text x="226" y="671.8">Drug metabolism - cytochrome P450</text>
<text x="226" y="685.3">HIF-1 signaling pathway</text>
<text x="226" y="698.7">Glycolysis / Gluconeogenesis</text>
<text x="226" y="712.2">Fructose and mannose metabolism</text>
<text x="226" y="725.7">Chemical carcinogenesis – DNA adducts</text>
<text x="226" y="739.2">Protein digestion and absorption</text>
<text x="226" y="752.6">Pathways in cancer</text>
<text x="226" y="766.1">Ferroptosis</text>
<text x="226" y="779.6">Mineral absorption</text>
<text x="226" y="793">Glutathione metabolism</text>
</g>
<circle cx="237" cy="534" r="2.3" fill="#8fd13c"/>
<circle cx="249" cy="547.5" r="2.0" fill="#b5c435"/>
<circle cx="257" cy="560.9" r="1.3" fill="#c4c048"/>
<circle cx="251" cy="574.4" r="3.0" fill="#d9a032"/>
<circle cx="267" cy="587.9" r="2.0" fill="#d99332"/>
<circle cx="265" cy="601.4" r="2.3" fill="#db8f2e"/>
<circle cx="246" cy="614.8" r="3.8" fill="#e08a22"/>
<circle cx="295" cy="628.3" r="1.0" fill="#e08228"/>
<circle cx="256" cy="641.8" r="3.4" fill="#e27022"/>
<circle cx="315" cy="655.2" r="1.5" fill="#e65530"/>
<circle cx="286" cy="668.7" r="2.3" fill="#e25024"/>
<circle cx="274" cy="682.2" r="2.7" fill="#e84222"/>
<circle cx="291" cy="695.6" r="2.4" fill="#e84324"/>
<circle cx="326" cy="709.1" r="1.9" fill="#e83a20"/>
<circle cx="291" cy="722.6" r="2.6" fill="#e83322"/>
<circle cx="286" cy="736.1" r="2.8" fill="#e82c20"/>
<circle cx="254" cy="749.5" r="5.5" fill="#f01c1c"/>
<circle cx="351" cy="763" r="2.2" fill="#e82020"/>
<circle cx="342" cy="776.5" r="2.5" fill="#e81a1a"/>
<circle cx="326" cy="789.9" r="2.8" fill="#e81818"/>
<g font-size="9" class="b" text-anchor="middle">
<text x="237" y="811">0.05</text><text x="275" y="811">0.10</text><text x="312.5" y="811">0.15</text><text x="350" y="811">0.20</text>
</g>
<text x="290" y="821" font-size="9.5" class="b" text-anchor="middle">rich</text>
<text x="358" y="533" font-size="9" class="b">Number</text>
<rect x="368" y="542" width="10" height="28" fill="#fff" stroke="#888" stroke-width="0.8"/>
<circle cx="373" cy="546" r="1.6" fill="#000"/><circle cx="373" cy="555.5" r="2.4" fill="#000"/><circle cx="373" cy="565" r="3.2" fill="#000"/>
<g font-size="8.5" class="b"><text x="380" y="549">10</text><text x="380" y="558.5">20</text><text x="380" y="568">30</text></g>
<text x="362" y="591" font-size="9" class="b">FDR</text>
<rect x="365" y="598" width="17" height="74" fill="url(#fdr)"/>
<g font-size="8.5" class="b"><text x="383" y="604">1.00</text><text x="383" y="621.5">0.75</text><text x="383" y="639">0.50</text><text x="383" y="656.5">0.25</text><text x="383" y="674">0.00</text></g>

<!-- ===== Panel g: GO ===== -->
<text x="411" y="522" font-size="22">g</text>
<text x="674" y="518" font-size="7.5" class="b" text-anchor="middle">GO Enrichment</text>
<rect x="638" y="525" width="72" height="268" fill="#fff" stroke="#a8a8a8"/>
<g stroke="#e8e8e8" stroke-width="0.7">
<line x1="646" y1="525" x2="646" y2="793"/><line x1="660" y1="525" x2="660" y2="793"/><line x1="675" y1="525" x2="675" y2="793"/><line x1="689" y1="525" x2="689" y2="793"/><line x1="703" y1="525" x2="703" y2="793"/>
<line x1="638" y1="532" x2="710" y2="532"/><line x1="638" y1="545.4" x2="710" y2="545.4"/><line x1="638" y1="558.7" x2="710" y2="558.7"/><line x1="638" y1="572.1" x2="710" y2="572.1"/><line x1="638" y1="585.5" x2="710" y2="585.5"/><line x1="638" y1="598.9" x2="710" y2="598.9"/><line x1="638" y1="612.2" x2="710" y2="612.2"/><line x1="638" y1="625.6" x2="710" y2="625.6"/><line x1="638" y1="639" x2="710" y2="639"/><line x1="638" y1="652.3" x2="710" y2="652.3"/><line x1="638" y1="665.7" x2="710" y2="665.7"/><line x1="638" y1="679.1" x2="710" y2="679.1"/><line x1="638" y1="692.4" x2="710" y2="692.4"/><line x1="638" y1="705.8" x2="710" y2="705.8"/><line x1="638" y1="719.2" x2="710" y2="719.2"/><line x1="638" y1="732.6" x2="710" y2="732.6"/><line x1="638" y1="745.9" x2="710" y2="745.9"/><line x1="638" y1="759.3" x2="710" y2="759.3"/><line x1="638" y1="772.7" x2="710" y2="772.7"/><line x1="638" y1="786" x2="710" y2="786"/>
</g>
<g stroke="#555" stroke-width="0.7">
<line x1="635" y1="532" x2="638" y2="532"/><line x1="635" y1="545.4" x2="638" y2="545.4"/><line x1="635" y1="558.7" x2="638" y2="558.7"/><line x1="635" y1="572.1" x2="638" y2="572.1"/><line x1="635" y1="585.5" x2="638" y2="585.5"/><line x1="635" y1="598.9" x2="638" y2="598.9"/><line x1="635" y1="612.2" x2="638" y2="612.2"/><line x1="635" y1="625.6" x2="638" y2="625.6"/><line x1="635" y1="639" x2="638" y2="639"/><line x1="635" y1="652.3" x2="638" y2="652.3"/><line x1="635" y1="665.7" x2="638" y2="665.7"/><line x1="635" y1="679.1" x2="638" y2="679.1"/><line x1="635" y1="692.4" x2="638" y2="692.4"/><line x1="635" y1="705.8" x2="638" y2="705.8"/><line x1="635" y1="719.2" x2="638" y2="719.2"/><line x1="635" y1="732.6" x2="638" y2="732.6"/><line x1="635" y1="745.9" x2="638" y2="745.9"/><line x1="635" y1="759.3" x2="638" y2="759.3"/><line x1="635" y1="772.7" x2="638" y2="772.7"/><line x1="635" y1="786" x2="638" y2="786"/>
<line x1="646" y1="793" x2="646" y2="796"/><line x1="660" y1="793" x2="660" y2="796"/><line x1="675" y1="793" x2="675" y2="796"/><line x1="689" y1="793" x2="689" y2="796"/><line x1="703" y1="793" x2="703" y2="796"/>
</g>
<g font-size="8.7" class="b" text-anchor="end" fill="#111">
<text x="634" y="535">T cell mediated cytotoxicity</text>
<text x="634" y="548.4">Stress response to metal ion</text>
<text x="634" y="561.7">Stress response to copper ion</text>
<text x="634" y="575.1">Response to interferon - beta</text>
<text x="634" y="588.5">Response to external stimulus</text>
<text x="634" y="601.9">Regulation of natural killer cell mediated immunit</text>
<text x="634" y="615.2">Regulation of mitochondrial depolarization</text>
<text x="634" y="628.6">Regulation of leukocyte mediated cytotoxicity</text>
<text x="634" y="642">Regulation of cytotoxic T cell differentiation</text>
<text x="634" y="655.3">Regulation of cell migration</text>
<text x="634" y="668.7">Positive regulation of receptor signaling pathway</text>
<text x="634" y="682.1">Positive regulation of CD8 - positive, alpha - beta T</text>
<text x="634" y="695.4">Negative regulation of innate immune response</text>
<text x="634" y="708.8">Negative regulation of cell growth</text>
<text x="634" y="722.2">Metal ion transport</text>
<text x="634" y="735.6">Granulocyte macrophage colony – stimulating factor r</text>
<text x="634" y="748.9">Glutathione metabolic process</text>
<text x="634" y="762.3">Glucose metabolic process</text>
<text x="634" y="775.7">Cell population proliferation</text>
<text x="634" y="789">Cell killing</text>
</g>
<circle cx="659" cy="532" r="1.5" fill="#e52a2a"/>
<circle cx="698" cy="545.4" r="1.5" fill="#e52a2a"/>
<circle cx="704" cy="558.7" r="1.2" fill="#e53030"/>
<circle cx="659" cy="572.1" r="1.6" fill="#e52a2a"/>
<circle cx="643" cy="585.5" r="4.6" fill="#f01c1c"/>
<circle cx="651" cy="598.9" r="1.5" fill="#e52a2a"/>
<circle cx="654" cy="612.2" r="1.1" fill="#e8703a"/>
<circle cx="653" cy="625.6" r="1.7" fill="#e52a2a"/>
<circle cx="682" cy="639" r="0.9" fill="#e8903a"/>
<circle cx="643" cy="652.3" r="2.8" fill="#ee1e1e"/>
<circle cx="647" cy="665.7" r="1.1" fill="#e86030"/>
<circle cx="682" cy="679.1" r="0.9" fill="#e8903a"/>
<circle cx="659" cy="692.4" r="1.7" fill="#e52a2a"/>
<circle cx="646" cy="705.8" r="1.7" fill="#e52a2a"/>
<circle cx="643" cy="719.2" r="2.8" fill="#ee1e1e"/>
<circle cx="691" cy="732.6" r="0.9" fill="#e8a040"/>
<circle cx="664" cy="745.9" r="1.7" fill="#e52a2a"/>
<circle cx="644" cy="759.3" r="1.5" fill="#e52a2a"/>
<circle cx="642" cy="772.7" r="3.6" fill="#ee1e1e"/>
<circle cx="647" cy="786" r="1.8" fill="#e52a2a"/>
<g font-size="6" class="b" text-anchor="middle">
<text x="646" y="802">0.1</text><text x="660" y="802">0.2</text><text x="675" y="802">0.3</text><text x="689" y="802">0.4</text><text x="703" y="802">0.5</text>
</g>
<text x="675" y="813" font-size="9" class="b" text-anchor="middle">rich</text>
<text x="708" y="531" font-size="9" class="b">Number</text>
<rect x="717" y="537" width="7" height="25" fill="#fff" stroke="#888" stroke-width="0.8"/>
<circle cx="720.5" cy="541" r="1.5" fill="#000"/><circle cx="720.5" cy="549" r="2" fill="#000"/><circle cx="720.5" cy="557" r="2.5" fill="#000"/>
<g font-size="8.5" class="b"><text x="726" y="544">50</text><text x="726" y="552">100</text><text x="726" y="560">150</text></g>
<text x="713" y="583" font-size="9" class="b">FDR</text>
<rect x="713" y="584" width="15" height="79" fill="url(#fdr)"/>
<g font-size="8.5" class="b"><text x="730" y="593">1.00</text><text x="730" y="612">0.75</text><text x="730" y="630">0.50</text><text x="730" y="648.5">0.25</text><text x="730" y="666">0.00</text></g>
</svg>
</body></html>
